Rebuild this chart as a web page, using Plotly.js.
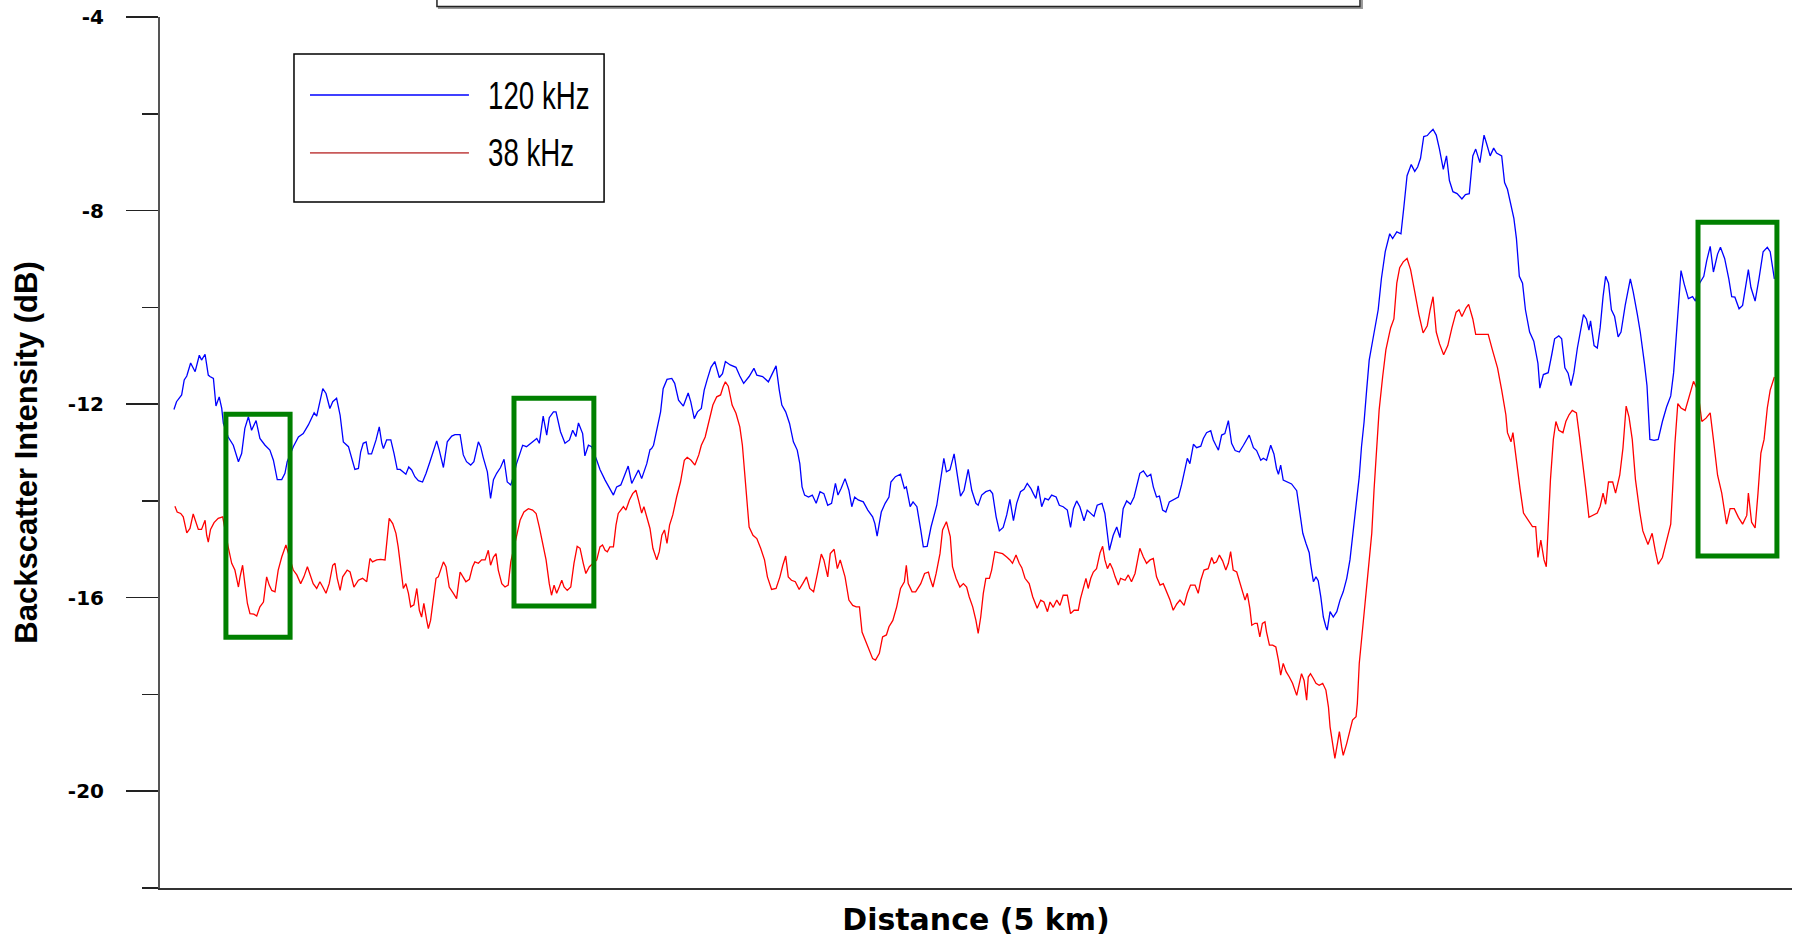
<!DOCTYPE html>
<html>
<head>
<meta charset="utf-8">
<script src="https://cdn.plot.ly/plotly-3.0.1.min.js"></script>
<style>
html,body{margin:0;padding:0;background:#ffffff;}
#chart{width:1801px;height:937px;}
</style>
</head>
<body>
<div id="chart"></div>
<script>
// ---- series names / colours ----
const seriesNames = ['120 kHz', '38 kHz'];
const seriesColors = ['#0000ff', '#ff0000'];

// ---- 120 kHz: distance along track (km) and backscatter (dB) ----
const dist120 = [
0.003,0.011,0.027,0.035,0.043,0.055,0.069,0.082,0.089,0.100,
0.110,0.115,0.126,0.134,0.144,0.152,0.157,0.172,0.188,0.204,
0.214,0.224,0.235,0.245,0.259,0.271,0.287,0.302,0.313,0.325,
0.339,0.349,0.356,0.375,0.391,0.406,0.422,0.432,0.440,0.448,
0.458,0.467,0.477,0.489,0.498,0.510,0.521,0.531,0.547,0.557,
0.567,0.578,0.585,0.593,0.602,0.609,0.619,0.633,0.643,0.651,
0.656,0.666,0.679,0.689,0.699,0.708,0.718,0.726,0.735,0.744,
0.754,0.765,0.778,0.789,0.801,0.812,0.822,0.830,0.843,0.855,
0.869,0.879,0.895,0.905,0.915,0.928,0.938,0.952,0.959,0.967,
0.980,0.990,0.999,1.009,1.021,1.032,1.042,1.053,1.061,1.071,
1.082,1.090,1.102,1.118,1.134,1.142,1.154,1.165,1.173,1.186,
1.194,1.208,1.222,1.236,1.246,1.256,1.264,1.277,1.284,1.295,
1.305,1.321,1.331,1.347,1.362,1.373,1.383,1.396,1.406,1.419,
1.430,1.440,1.451,1.461,1.477,1.487,
1.492,1.498,1.510,1.520,1.528,1.540,1.555,1.564,1.576,1.591,
1.606,1.614,1.625,1.635,1.647,1.656,1.665,1.677,1.689,1.699,
1.703,1.713,1.722,1.737,1.755,1.767,1.779,1.796,1.811,1.820,
1.838,1.856,1.868,1.880,1.890,1.898,1.910,1.922,1.934,1.946,
1.954,1.961,1.969,1.981,1.993,2.005,2.017,2.029,2.041,2.053,
2.065,2.073,2.083,2.095,2.107,2.116,2.125,2.136,2.152,2.166,
2.181,2.188,2.195,2.208,2.220,2.232,2.238,2.252,2.268,2.280,
2.286,2.298,2.307,2.319,2.331,2.339,2.351,2.363,2.381,2.393,
2.403,2.411,
2.422,2.435,2.445,2.455,2.466,2.479,2.490,2.503,2.510,2.521,
2.534,2.547,2.555,2.566,2.576,2.588,2.599,2.609,2.620,2.630,
2.642,2.653,2.663,2.674,2.682,2.690,2.697,2.708,2.718,2.729,
2.739,2.753,2.763,2.775,2.788,2.798,2.807,2.817,2.827,2.840,
2.850,2.861,2.871,2.881,2.896,2.905,2.919,2.931,2.942,2.952,
2.962,2.973,2.985,2.996,3.004,3.014,3.025,3.037,3.048,3.056,
3.066,3.075,3.085,3.095,3.106,3.120,3.134,3.144,3.155,3.162,
3.170,3.181,3.191,3.204,3.212,3.222,3.235,3.243,3.251,3.259,
3.269,3.279,3.290,3.300,3.311,3.324,3.337,3.355,3.368,3.378,
3.391,3.399,3.409,3.422,3.432,3.440,3.446,3.453,3.461,3.474,
3.487,3.503,3.513,3.522,3.532,3.542,3.546,3.555,3.563,3.570,
3.578,3.586,3.594,3.598,3.607,3.617,3.628,3.638,3.648,3.659,
3.669,3.679,3.690,3.698,3.705,3.713,3.721,3.729,3.740,
3.750,3.757,3.767,3.779,3.793,3.802,3.815,3.828,3.837,3.847,
3.860,3.871,3.880,3.889,3.899,3.910,3.919,3.928,3.938,3.948,
3.960,3.970,3.979,3.990,4.003,4.018,4.029,4.041,4.052,4.061,
4.074,4.087,4.096,4.106,4.117,4.126,4.142,4.151,4.160,4.171,
4.180,4.188,4.197,4.207,4.216,4.229,4.242,4.255,4.261,4.272,
4.287,4.298,4.307,4.320,4.329,4.339,4.349,4.358,4.367,4.378,
4.388,4.397,4.406,4.414,4.419,4.430,4.440,4.449,4.458,4.466,
4.475,4.484,4.494,4.505,4.514,4.527,4.543,4.552,4.565,4.574,
4.587,4.595,4.604,4.617,4.630,4.643,4.656,4.669,4.678,4.688,
4.701,4.711,4.724,4.737,4.746,4.759,4.772,4.781,4.792,4.802,
4.815,4.824,4.837,4.850,4.859,4.869,4.882,4.893,4.902,4.911,
4.919,4.932,4.944,4.957,4.970,4.979,4.992
];
const level120 = [
-12.11,-11.95,-11.81,-11.50,-11.42,-11.15,-11.33,-10.99,-11.09,-10.97,
-11.40,-11.43,-11.47,-12.04,-11.85,-12.09,-12.40,-12.68,-12.85,-13.19,
-13.02,-12.50,-12.26,-12.54,-12.34,-12.71,-12.85,-12.95,-13.16,-13.56,
-13.56,-13.43,-13.19,-12.88,-12.68,-12.61,-12.43,-12.30,-12.18,-12.25,
-11.97,-11.68,-11.78,-12.09,-11.95,-11.88,-12.23,-12.78,-12.88,-13.12,
-13.35,-13.33,-12.99,-12.81,-12.78,-13.03,-13.03,-12.74,-12.47,-12.81,
-12.92,-12.74,-12.74,-13.02,-13.35,-13.35,-13.40,-13.45,-13.30,-13.36,
-13.50,-13.58,-13.61,-13.43,-13.19,-12.95,-12.76,-12.95,-13.31,-12.78,
-12.66,-12.63,-12.63,-13.05,-13.19,-13.26,-13.19,-12.78,-12.88,-13.10,
-13.40,-13.95,-13.56,-13.43,-13.31,-13.14,-13.61,-13.67,-13.50,-13.23,
-13.02,-12.85,-12.88,-12.80,-12.71,-12.81,-12.25,-12.64,-12.28,-12.16,
-12.16,-12.57,-12.81,-12.74,-12.54,-12.67,-12.39,-12.61,-13.07,-12.85,
-12.88,-13.16,-13.35,-13.57,-13.76,-13.88,-13.71,-13.67,-13.50,-13.28,
-13.64,-13.50,-13.36,-13.54,-13.23,-12.94,
-12.92,-12.85,-12.47,-12.16,-11.68,-11.49,-11.47,-11.57,-11.92,-12.04,
-11.77,-11.95,-12.30,-12.16,-12.09,-11.71,-11.50,-11.24,-11.12,-11.35,
-11.45,-11.37,-11.12,-11.19,-11.24,-11.42,-11.57,-11.43,-11.26,-11.40,
-11.43,-11.54,-11.37,-11.21,-11.71,-12.02,-12.16,-12.40,-12.78,-12.95,
-13.23,-13.71,-13.88,-13.92,-13.88,-14.05,-13.81,-13.85,-14.09,-14.05,
-13.64,-13.88,-13.74,-13.54,-13.78,-14.12,-13.92,-13.98,-14.02,-14.19,
-14.33,-14.47,-14.73,-14.23,-14.05,-13.92,-13.61,-13.50,-13.45,-13.74,
-13.71,-14.12,-14.02,-14.12,-14.60,-14.95,-14.94,-14.54,-14.09,-13.57,
-13.12,-13.40,
-13.36,-13.03,-13.50,-13.90,-13.78,-13.35,-13.78,-14.05,-14.09,-13.88,
-13.81,-13.78,-13.85,-14.33,-14.62,-14.55,-14.29,-13.97,-14.41,-14.05,
-13.81,-13.76,-13.64,-13.74,-13.85,-13.95,-13.69,-14.12,-13.95,-13.98,
-13.88,-13.92,-14.09,-14.12,-14.19,-14.55,-14.16,-14.00,-14.12,-14.41,
-14.19,-14.27,-14.32,-14.09,-14.05,-14.26,-15.02,-14.71,-14.54,-14.76,
-14.16,-14.00,-14.07,-13.92,-13.67,-13.43,-13.38,-13.50,-13.45,-13.71,
-13.92,-13.90,-14.19,-14.23,-14.02,-13.97,-13.92,-13.67,-13.36,-13.12,
-13.23,-12.83,-12.90,-12.87,-12.71,-12.59,-12.55,-12.74,-12.85,-12.95,
-12.64,-12.61,-12.34,-12.81,-12.96,-12.99,-12.85,-12.64,-12.90,-12.96,
-13.16,-13.12,-13.16,-12.85,-13.03,-13.33,-13.45,-13.26,-13.57,-13.61,
-13.65,-13.79,-14.23,-14.67,-14.88,-15.07,-15.29,-15.67,-15.57,-15.65,
-15.98,-16.40,-16.60,-16.67,-16.29,-16.40,-16.29,-16.05,-15.88,-15.60,
-15.22,-14.67,-13.98,-13.50,-12.88,-12.37,-11.71,-11.09,-10.68,
-10.33,-10.05,-9.41,-8.85,-8.48,-8.58,-8.44,-8.48,-7.93,-7.28,
-7.05,-7.19,-7.10,-6.92,-6.47,-6.45,-6.38,-6.32,-6.44,-6.73,
-7.15,-6.87,-7.38,-7.61,-7.65,-7.76,-7.67,-7.65,-6.87,-6.73,
-7.01,-6.44,-6.64,-6.87,-6.71,-6.81,-6.87,-7.42,-7.56,-7.88,
-8.16,-8.58,-9.36,-9.50,-10.05,-10.51,-10.70,-11.16,-11.67,-11.39,
-11.35,-10.98,-10.65,-10.59,-10.65,-11.25,-11.36,-11.62,-11.35,-10.84,
-10.51,-10.15,-10.24,-10.47,-10.28,-10.79,-10.84,-10.42,-9.78,-9.36,
-9.50,-10.05,-10.19,-10.61,-10.51,-9.96,-9.41,-9.68,-10.15,-10.51,
-11.16,-11.62,-12.73,-12.75,-12.73,-12.36,-12.06,-11.83,-11.35,-10.33,
-9.24,-9.52,-9.82,-9.78,-9.87,-9.50,-9.36,-9.04,-8.74,-9.27,
-8.90,-8.76,-8.99,-9.41,-9.78,-9.79,-10.03,-9.96,-9.59,-9.22,
-9.59,-9.87,-9.41,-8.85,-8.76,-8.85,-9.41
];

// ---- 38 kHz ----
const dist38 = [
0.006,0.013,0.024,0.032,0.043,0.053,0.063,0.072,0.079,0.089,
0.100,0.105,0.110,0.117,0.128,0.141,0.155,0.172,0.183,0.193,
0.204,0.209,0.217,0.224,0.232,0.240,0.252,0.261,0.271,0.282,
0.292,0.300,0.308,0.318,0.328,0.339,0.352,0.375,0.386,0.398,
0.408,0.419,0.427,0.437,0.448,0.458,0.467,0.477,0.487,0.498,
0.505,0.512,0.521,0.529,0.543,0.552,0.564,0.578,0.591,0.604,
0.614,0.622,0.635,0.647,0.661,0.668,0.674,0.685,0.695,0.702,
0.710,0.718,0.726,0.734,0.741,0.751,0.760,0.768,0.775,0.782,
0.791,0.796,0.803,0.812,0.820,0.827,0.834,0.843,0.851,0.861,
0.874,0.884,0.895,0.903,0.913,0.924,0.934,0.941,0.952,0.962,
0.973,0.983,0.990,0.999,1.007,1.014,1.025,1.035,1.045,1.053,
1.071,1.082,1.094,1.108,1.121,1.132,1.142,1.152,1.163,1.173,
1.180,1.188,1.196,1.204,1.212,1.219,1.229,1.240,1.250,1.260,
1.269,1.279,1.287,1.298,1.321,1.331,1.339,1.347,1.354,1.362,
1.373,1.381,1.388,1.396,1.404,1.412,1.423,1.433,1.443,1.451,
1.461,1.468,1.477,1.487,
1.496,1.508,1.516,1.524,1.532,1.540,1.548,1.558,1.570,1.582,
1.594,1.603,1.615,1.627,1.639,1.647,1.659,1.671,1.683,1.695,
1.707,1.715,1.722,1.731,1.743,1.755,1.767,1.775,1.784,1.796,
1.808,1.820,1.832,1.844,1.853,1.866,1.880,1.892,1.901,1.910,
1.918,1.928,1.940,1.952,1.963,1.975,1.985,1.997,2.009,2.021,
2.029,2.041,2.049,2.061,2.071,2.080,2.095,2.107,2.119,2.130,
2.140,2.148,2.160,2.172,2.181,2.190,2.202,2.212,2.224,2.232,
2.244,2.256,2.268,2.280,2.286,2.292,2.304,2.315,2.331,2.343,
2.355,2.360,2.369,2.379,2.391,2.399,2.411,2.423,
2.430,2.441,2.453,2.464,2.474,2.482,2.493,2.503,2.510,2.518,
2.526,2.534,2.545,2.552,2.562,2.573,2.586,2.599,2.609,2.617,
2.628,2.638,2.646,2.656,2.669,2.680,2.694,2.705,2.715,2.726,
2.734,2.744,2.755,2.765,2.775,2.788,2.798,2.809,2.822,2.829,
2.838,2.846,2.853,2.861,2.869,2.879,2.890,2.898,2.905,2.913,
2.921,2.929,2.937,2.947,2.954,2.968,2.978,2.988,2.999,3.006,
3.014,3.025,3.035,3.046,3.056,3.066,3.077,3.087,3.098,3.108,
3.118,3.129,3.139,3.152,3.162,3.172,3.186,3.196,3.204,3.214,
3.227,3.238,3.245,3.253,3.262,3.272,3.282,3.290,3.297,3.305,
3.316,3.326,3.337,3.342,3.349,3.357,3.363,3.373,3.380,3.388,
3.396,3.404,3.409,3.418,3.428,3.438,3.446,3.453,3.461,3.470,
3.480,3.490,3.503,3.511,3.518,3.526,3.534,3.539,3.546,3.555,
3.563,3.573,3.584,3.594,3.602,3.607,3.615,3.622,3.630,3.636,
3.643,3.648,3.659,3.667,3.677,3.688,3.692,3.698,3.705,3.716,
3.726,3.737,3.744,3.752,3.760,3.771,3.781,3.792,
3.796,3.806,3.815,3.824,3.835,3.847,3.858,3.871,3.884,3.897,
3.910,3.919,3.928,3.938,3.948,3.961,3.974,3.987,4.000,4.009,
4.018,4.031,4.039,4.052,4.061,4.080,4.100,4.113,4.129,4.142,
4.155,4.160,4.171,4.177,4.186,4.199,4.210,4.225,4.238,4.248,
4.255,4.264,4.274,4.281,4.287,4.294,4.303,4.311,4.320,4.333,
4.342,4.352,4.362,4.375,4.384,4.393,4.404,4.414,4.427,4.440,
4.449,4.458,4.466,4.475,4.488,4.497,4.510,4.520,4.530,4.539,
4.549,4.559,4.572,4.582,4.598,4.611,4.621,4.630,4.643,4.656,
4.669,4.675,4.682,4.691,4.701,4.714,4.724,4.740,4.753,4.766,
4.779,4.792,4.802,4.815,4.828,4.843,4.854,4.867,4.880,4.893,
4.906,4.911,4.921,4.932,4.941,4.950,4.960,4.970,4.979,4.992
];
const level38 = [
-14.11,-14.23,-14.26,-14.33,-14.66,-14.57,-14.27,-14.47,-14.59,-14.59,
-14.40,-14.71,-14.85,-14.59,-14.45,-14.36,-14.33,-14.95,-15.29,-15.43,
-15.78,-15.57,-15.33,-15.71,-16.12,-16.33,-16.34,-16.38,-16.19,-16.09,
-15.57,-15.74,-15.85,-15.88,-15.43,-15.16,-14.91,-15.43,-15.53,-15.71,
-15.57,-15.36,-15.50,-15.71,-15.81,-15.67,-15.78,-15.91,-15.71,-15.33,
-15.29,-15.60,-15.85,-15.57,-15.43,-15.47,-15.78,-15.64,-15.60,-15.67,
-15.19,-15.26,-15.22,-15.21,-15.22,-14.71,-14.36,-14.47,-14.67,-14.95,
-15.36,-15.81,-15.71,-15.91,-16.19,-16.15,-15.81,-16.26,-16.40,-16.12,
-16.47,-16.64,-16.47,-15.98,-15.60,-15.57,-15.42,-15.26,-15.36,-15.78,
-15.91,-16.02,-15.47,-15.57,-15.67,-15.62,-15.36,-15.26,-15.29,-15.22,
-15.22,-15.02,-15.33,-15.16,-15.09,-15.43,-15.71,-15.78,-15.74,-15.26,
-14.74,-14.40,-14.23,-14.16,-14.19,-14.26,-14.54,-14.88,-15.22,-15.71,
-15.95,-15.74,-15.91,-15.78,-15.64,-15.78,-15.85,-15.78,-15.29,-14.94,
-14.98,-15.29,-15.50,-15.36,-15.22,-14.95,-14.91,-15.02,-15.05,-14.95,
-14.95,-14.50,-14.26,-14.19,-14.12,-14.19,-13.98,-13.85,-13.78,-13.98,
-14.25,-14.12,-14.33,-14.57,
-14.98,-15.22,-15.05,-14.71,-14.60,-14.88,-14.50,-14.29,-13.92,-13.61,
-13.16,-13.10,-13.16,-13.26,-13.05,-12.85,-12.68,-12.33,-12.02,-11.85,
-11.81,-11.64,-11.54,-11.63,-12.02,-12.19,-12.47,-12.85,-13.57,-14.54,
-14.71,-14.78,-14.98,-15.22,-15.57,-15.83,-15.81,-15.57,-15.33,-15.14,
-15.57,-15.64,-15.67,-15.83,-15.71,-15.57,-15.81,-15.88,-15.50,-15.10,
-15.22,-15.57,-15.09,-15.00,-15.40,-15.22,-15.57,-16.05,-16.16,-16.19,
-16.19,-16.71,-16.91,-17.12,-17.26,-17.29,-17.15,-16.81,-16.77,-16.60,
-16.47,-16.19,-15.81,-15.67,-15.33,-15.71,-15.88,-15.88,-15.71,-15.50,
-15.47,-15.60,-15.78,-15.50,-15.09,-14.60,-14.43,-14.74,
-15.36,-15.60,-15.78,-15.71,-15.78,-15.98,-16.19,-16.47,-16.74,-16.40,
-15.91,-15.60,-15.60,-15.43,-15.05,-15.07,-15.09,-15.16,-15.22,-15.29,
-15.12,-15.29,-15.38,-15.60,-15.71,-15.98,-16.22,-16.05,-16.09,-16.29,
-16.09,-16.20,-16.05,-16.16,-15.95,-15.95,-16.33,-16.26,-16.26,-16.02,
-15.78,-15.60,-15.81,-15.60,-15.47,-15.40,-15.07,-14.94,-15.22,-15.40,
-15.29,-15.40,-15.57,-15.74,-15.60,-15.64,-15.53,-15.67,-15.50,-15.29,
-14.98,-15.16,-15.29,-15.22,-15.19,-15.57,-15.74,-15.71,-15.88,-16.05,
-16.26,-16.13,-16.05,-16.16,-15.91,-15.74,-15.74,-15.91,-15.64,-15.43,
-15.40,-15.17,-15.29,-15.26,-15.12,-15.24,-15.43,-15.29,-15.05,-15.43,
-15.47,-15.71,-15.98,-16.05,-15.91,-16.22,-16.57,-16.53,-16.53,-16.81,
-16.53,-16.50,-16.71,-16.98,-16.98,-17.02,-17.29,-17.60,-17.36,-17.53,
-17.64,-17.77,-18.02,-17.77,-17.57,-17.71,-18.12,-17.64,-17.57,-17.67,
-17.77,-17.81,-17.77,-17.91,-18.26,-18.67,-19.08,-19.32,-19.01,-18.77,
-19.08,-19.26,-19.01,-18.77,-18.53,-18.46,-18.19,-17.36,-16.81,-16.12,
-15.43,-14.67,-13.78,-12.95,-12.12,-11.43,-10.88,-10.54,
-10.42,-10.24,-9.50,-9.18,-9.06,-8.99,-9.22,-9.68,-10.15,-10.53,
-10.38,-10.05,-9.78,-10.51,-10.75,-10.98,-10.79,-10.42,-10.10,-10.05,
-10.19,-10.01,-9.94,-10.24,-10.56,-10.56,-10.56,-10.88,-11.25,-11.71,
-12.22,-12.59,-12.78,-12.59,-13.10,-13.74,-14.25,-14.39,-14.53,-14.53,
-15.17,-14.81,-15.22,-15.36,-14.44,-13.56,-12.73,-12.36,-12.54,-12.59,
-12.36,-12.22,-12.13,-12.18,-12.64,-13.10,-13.74,-14.34,-14.30,-14.25,
-14.11,-13.84,-14.07,-13.61,-13.61,-13.84,-13.47,-12.91,-12.04,-12.27,
-12.73,-13.56,-14.21,-14.62,-14.90,-14.67,-15.04,-15.31,-15.17,-14.85,
-14.48,-13.74,-12.82,-11.99,-12.08,-12.13,-11.90,-11.53,-11.71,-12.36,
-12.29,-12.18,-12.73,-13.47,-13.84,-14.48,-14.16,-14.16,-14.34,-14.48,
-14.30,-13.84,-14.44,-14.56,-13.84,-13.01,-12.73,-12.08,-11.71,-11.44
];

// ---- highlighted segments (green boxes): km span and dB span ----
const boxStart  = [0.165, 1.063, 4.754];
const boxEnd    = [0.365, 1.312, 5.000];
const boxTop    = [-12.21, -11.88, -8.24];
const boxBottom = [-16.82, -16.17, -15.14];

// ---- y-axis ticks ----
const yTickVals = [-20, -16, -12, -8, -4];
const yTickText = ['-20', '-16', '-12', '-8', '-4'];
const yMinorVals = [-22, -18, -14, -10, -6];

const traces = [
  {x: dist120, y: level120, type: 'scatter', mode: 'lines', name: seriesNames[0],
   line: {color: seriesColors[0], width: 1.3}, showlegend: false, hoverinfo: 'skip'},
  {x: dist38, y: level38, type: 'scatter', mode: 'lines', name: seriesNames[1],
   line: {color: seriesColors[1], width: 1.3}, showlegend: false, hoverinfo: 'skip'}
];

const shapes = [];
for (let i = 0; i < boxStart.length; i++) {
  shapes.push({type: 'rect', xref: 'x', yref: 'y',
    x0: boxStart[i], x1: boxEnd[i], y0: boxBottom[i], y1: boxTop[i],
    line: {color: '#008000', width: 5}, fillcolor: 'rgba(0,0,0,0)', layer: 'above'});
}
// legend frame and samples
shapes.push({type: 'rect', xref: 'paper', yref: 'paper', x0: 0.0821, x1: 0.2721, y0: 0.7876, y1: 0.9575,
  line: {color: '#000000', width: 1.5}, fillcolor: '#ffffff', layer: 'above'});
shapes.push({type: 'line', xref: 'paper', yref: 'paper', x0: 0.0919, x1: 0.1893, y0: 0.9104, y1: 0.9104,
  line: {color: seriesColors[0], width: 1.5}, layer: 'above'});
shapes.push({type: 'line', xref: 'paper', yref: 'paper', x0: 0.0919, x1: 0.1893, y0: 0.8439, y1: 0.8439,
  line: {color: '#c85a5a', width: 1.8}, layer: 'above'});
// cut-off frame at the top of the figure
shapes.push({type: 'rect', xref: 'paper', yref: 'paper', x0: 0.1709, x1: 0.7365, y0: 1.0103, y1: 1.06,
  line: {color: '#999999', width: 2}, fillcolor: 'rgba(0,0,0,0)'});
shapes.push({type: 'rect', xref: 'paper', yref: 'paper', x0: 0.1697, x1: 0.7353, y0: 1.0121, y1: 1.06,
  line: {color: '#222222', width: 1.5}, fillcolor: '#ffffff'});

const legendFont = {family: 'Liberation Sans, Arial, sans-serif', size: 39, color: '#000'};
const annotations = [
  {xref: 'paper', yref: 'paper', x: 0.1998, y: 0.9104, xanchor: 'left', yanchor: 'middle',
   text: seriesNames[0], showarrow: false, font: legendFont},
  {xref: 'paper', yref: 'paper', x: 0.1998, y: 0.8439, xanchor: 'left', yanchor: 'middle',
   text: seriesNames[1], showarrow: false, font: legendFont}
];

const layout = {
  width: 1801, height: 937,
  margin: {l: 160, r: 9, t: 17, b: 49, pad: 0},
  paper_bgcolor: '#ffffff', plot_bgcolor: '#ffffff',
  font: {family: 'Liberation Sans, Arial, sans-serif', color: '#000'},
  showlegend: false,
  xaxis: {
    range: [-0.0405, 5.047], showline: true, linecolor: '#333333', linewidth: 2,
    showgrid: false, zeroline: false, ticks: '', showticklabels: false, automargin: false,
    title: {text: 'Distance (5 km)', standoff: 20,
            font: {family: 'DejaVu Sans, sans-serif', size: 30, weight: 'bold', color: '#000'}}
  },
  yaxis: {
    range: [-22, -4], showline: true, linecolor: '#555555', linewidth: 2,
    showgrid: false, zeroline: false, automargin: false,
    tickmode: 'array', tickvals: yTickVals, ticktext: yTickText,
    ticks: 'outside', ticklen: 32, tickwidth: 1.5, tickcolor: '#222222',
    ticklabelstandoff: 18,
    tickfont: {family: 'DejaVu Sans, sans-serif', size: 20, weight: 'bold', color: '#000'},
    minor: {tickmode: 'array', tickvals: yMinorVals, ticks: 'outside', ticklen: 16,
            tickwidth: 1.5, tickcolor: '#222222', showgrid: false},
    title: {text: 'Backscatter Intensity (dB)', standoff: 21,
            font: {family: 'Liberation Sans, Arial, sans-serif', size: 31, weight: 'bold', color: '#000'}}
  },
  shapes: shapes,
  annotations: annotations
};

Plotly.newPlot('chart', traces, layout, {displayModeBar: false, staticPlot: true}).then(function (gd) {
  // the original legend uses a tall, narrow typeface: compress the legend labels horizontally
  const squeeze = 0.71;
  gd.querySelectorAll('.annotation-text').forEach(function (t) {
    const b = t.getBBox();
    const prev = t.getAttribute('transform') || '';
    t.setAttribute('transform', 'translate(' + (b.x * (1 - squeeze)) + ',0) scale(' + squeeze + ',1) ' + prev);
  });
});
</script>
</body>
</html>
